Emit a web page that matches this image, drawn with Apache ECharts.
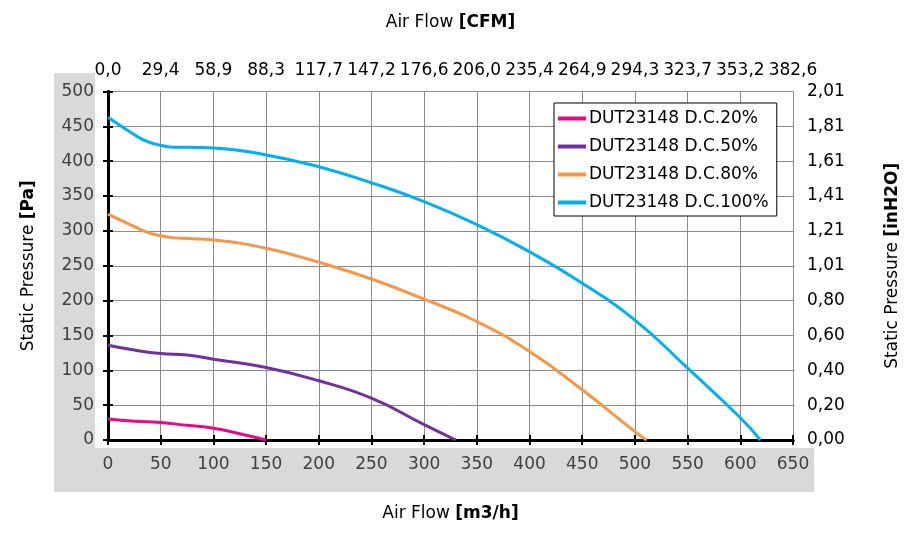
<!DOCTYPE html>
<html style="height: 100%">
<head>
    <meta charset="utf-8">
</head>
<body style="margin: 0; height: 100%; background: #fff;">
<div id="container" style="width: 921px; height: 534px;"></div>
<script type="text/javascript" src="https://cdn.jsdelivr.net/npm/echarts@6/dist/echarts.min.js"></script>
<script type="text/javascript">
    // tick labels of the secondary axes (same tick positions as the main axes)
    var cfmLabels = ['0,0', '29,4', '58,9', '88,3', '117,7', '147,2', '176,6', '206,0',
        '235,4', '264,9', '294,3', '323,7', '353,2', '382,6'];
    var inh2oLabels = ['0,00', '0,20', '0,40', '0,60', '0,80', '1,01', '1,21', '1,41',
        '1,61', '1,81', '2,01'];

    var seriesNames = ['DUT23148 D.C.20%', 'DUT23148 D.C.50%', 'DUT23148 D.C.80%', 'DUT23148 D.C.100%'];
    var seriesColors = ['#e8088a', '#7030a0', '#f79646', '#00b0f0'];

    // air flow [m3/h] and static pressure [Pa]
    var flow20 = [0, 25, 50, 75, 100, 125, 150];
    var press20 = [30, 27, 25, 21, 17, 9, 0];

    var flow50 = [0, 25, 50, 75, 100, 150, 200, 250, 300, 330];
    var press50 = [136, 129, 124, 122, 116, 104, 85, 60, 22, 0];

    var flow80 = [0, 25, 37.5, 50, 62.5, 75, 100, 150, 200, 250, 300, 350, 400, 450, 500, 511];
    var press80 = [324, 306, 298, 293, 290, 289, 287, 275, 255, 231, 202, 170, 127, 72, 12, 0];

    var flow100 = [0, 25, 37.5, 50, 62.5, 75, 100, 150, 200, 250, 300, 350, 400, 450, 500, 550, 600, 619];
    var press100 = [463, 438, 428, 423, 420, 420, 419, 409, 392, 369, 342, 309, 270, 225, 172, 103, 32, 0];

    function pairs(xs, ys) {
        var out = [];
        for (var i = 0; i < xs.length; i++) {
            out.push([xs[i], ys[i]]);
        }
        return out;
    }

    var curves = [
        pairs(flow20, press20),
        pairs(flow50, press50),
        pairs(flow80, press80),
        pairs(flow100, press100)
    ];

    var font = 'DejaVu Sans';
    var axisLine = {show: true, lineStyle: {color: '#000', width: 3}};
    var tick = {show: true, length: 5, lineStyle: {color: '#000', width: 2}};

    var dom = document.getElementById('container');
    var myChart = echarts.init(dom);
    var option;

    var series = [];
    for (var s = 0; s < curves.length; s++) {
        series.push({
            name: seriesNames[s],
            type: 'line',
            data: curves[s],
            smooth: 0.5,
            showSymbol: false,
            clip: false,
            lineStyle: {color: seriesColors[s], width: 3},
            itemStyle: {color: seriesColors[s]},
            z: 3
        });
    }

    option = {
        animation: false,
        textStyle: {fontFamily: font},
        graphic: [
            {type: 'rect', shape: {x: 54, y: 73, width: 41, height: 419}, style: {fill: '#d9d9d9'}, z: -10},
            {type: 'rect', shape: {x: 54, y: 448, width: 760, height: 44}, style: {fill: '#d9d9d9'}, z: -10}
        ],
        grid: {
            left: 108,
            right: 128,
            top: 91.5,
            bottom: 94
        },
        legend: {
            orient: 'vertical',
            left: 554,
            top: 103,
            padding: [7, 8, 5, 4],
            itemGap: 11,
            itemWidth: 28,
            itemHeight: 4,
            icon: 'rect',
            backgroundColor: '#fff',
            borderColor: '#000',
            borderWidth: 1,
            borderRadius: 0,
            textStyle: {fontFamily: font, fontSize: 17, color: '#000', padding: [0, 0, 0, -2]},
            data: seriesNames
        },
        xAxis: [
            {
                type: 'value',
                position: 'bottom',
                min: 0,
                max: 650,
                interval: 50,
                name: '{n|Air Flow }{b|[m3/h]}',
                nameLocation: 'middle',
                nameGap: 65,
                nameTextStyle: {
                    rich: {
                        n: {fontFamily: font, fontSize: 17, color: '#000'},
                        b: {fontFamily: font, fontSize: 17, color: '#000', fontWeight: 'bold'}
                    }
                },
                axisLine: axisLine,
                axisTick: tick,
                axisLabel: {fontFamily: font, fontSize: 17, color: '#404040', margin: 16},
                splitLine: {show: true, lineStyle: {color: '#8c8c8c', width: 1}}
            },
            {
                type: 'value',
                position: 'top',
                min: 0,
                max: 650,
                interval: 50,
                name: '{n|Air Flow }{b|[CFM]}',
                nameLocation: 'middle',
                nameGap: 60,
                nameTextStyle: {
                    rich: {
                        n: {fontFamily: font, fontSize: 17, color: '#000'},
                        b: {fontFamily: font, fontSize: 17, color: '#000', fontWeight: 'bold'}
                    }
                },
                axisLine: axisLine,
                axisTick: tick,
                axisLabel: {
                    fontFamily: font, fontSize: 17, color: '#000', margin: 12,
                    formatter: function (v) { return cfmLabels[Math.round(v / 50)]; }
                },
                splitLine: {show: false}
            }
        ],
        yAxis: [
            {
                type: 'value',
                position: 'left',
                min: 0,
                max: 500,
                interval: 50,
                name: '{n|Static Pressure }{b|[Pa]}',
                nameLocation: 'middle',
                nameGap: 71,
                nameTextStyle: {
                    rich: {
                        n: {fontFamily: font, fontSize: 17, color: '#000'},
                        b: {fontFamily: font, fontSize: 17, color: '#000', fontWeight: 'bold'}
                    }
                },
                axisLine: axisLine,
                axisTick: tick,
                axisLabel: {fontFamily: font, fontSize: 17, color: '#404040', margin: 14},
                splitLine: {show: true, lineStyle: {color: '#8c8c8c', width: 1}}
            },
            {
                type: 'value',
                position: 'right',
                min: 0,
                max: 500,
                interval: 50,
                name: '{n|Static Pressure }{b|[inH2O]}',
                nameLocation: 'middle',
                nameGap: 91,
                nameTextStyle: {
                    rich: {
                        n: {fontFamily: font, fontSize: 17, color: '#000'},
                        b: {fontFamily: font, fontSize: 17, color: '#000', fontWeight: 'bold'}
                    }
                },
                axisLine: axisLine,
                axisTick: tick,
                axisLabel: {
                    fontFamily: font, fontSize: 17, color: '#000', margin: 14,
                    formatter: function (v) { return inh2oLabels[Math.round(v / 50)]; }
                },
                splitLine: {show: false}
            }
        ],
        series: series
    };

    if (option && typeof option === 'object') {
        myChart.setOption(option);
    }
</script>
</body>
</html>
